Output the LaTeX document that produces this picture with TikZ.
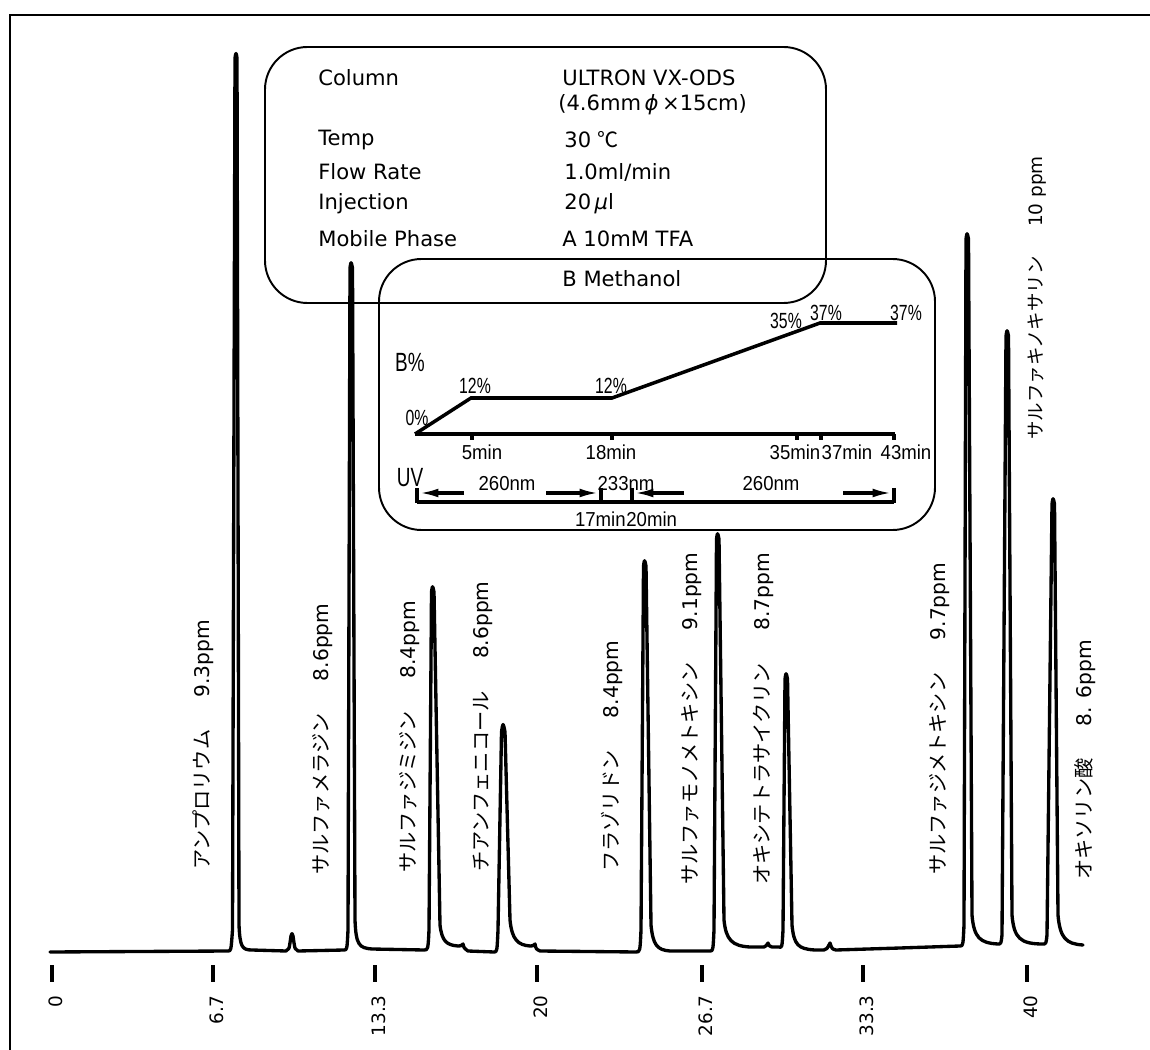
\documentclass[tikz,border=0pt]{standalone}
\usepackage{fontspec}
\setmainfont{DejaVu Sans}
\newfontfamily\jp{Noto Sans CJK JP}
\newfontfamily\chartfont[FakeStretch=0.92]{Liberation Sans}
\newfontfamily\narrowfont[FakeStretch=0.72]{Liberation Sans}
\usetikzlibrary{arrows.meta}

\begin{document}
\begin{tikzpicture}[x=0.02cm,y=-0.02cm,
  trace/.style={line width=1.9pt,line join=round,line cap=round},
  infobox/.style={draw,line width=1.1pt,rounded corners=0.85cm},
  infotext/.style={anchor=west,inner sep=0pt,font=\fontsize{12}{14}\selectfont},
  peaklabel/.style={rotate=90,anchor=west,inner sep=0pt,font=\fontsize{11.5}{13}\selectfont},
  ticklabel/.style={rotate=90,anchor=east,inner sep=0pt,font=\fontsize{10.5}{12}\selectfont},
  tickmark/.style={line width=2.2pt},
  gradtext/.style={inner sep=0pt,font=\chartfont\fontsize{11.5}{13}\selectfont},
  pcttext/.style={inner sep=0pt,font=\narrowfont\fontsize{12.5}{14}\selectfont},
  bigtext/.style={inner sep=0pt,font=\narrowfont\fontsize{15}{17}\selectfont},
  uvarrow/.style={line width=1.8pt,-{Latex[length=11pt,width=5pt]}},
  thickline/.style={line width=2pt}]

\useasboundingbox (0,0) rectangle (1150,1050);
\draw[line width=1.5pt] (10,1050) -- (10,15) -- (1150,15);

% conditions
\draw[infobox] (265,47) rectangle (826,303);
\draw[infobox] (379,259) rectangle (935,530);

\node[infotext] (col) at (318,78) {Column};
\node[infotext] (colv) at (562,78) {ULTRON VX-ODS};
\node[infotext] (colsize) at (558,105) {(4.6mm\,\textit{ϕ}\,×15cm)};
\node[infotext] (temp) at (318,140) {Temp};
\node[infotext] (tempv) at (564,140) {30 {\jp ℃}};
\node[infotext] (flow) at (318,172) {Flow Rate};
\node[infotext] (flowv) at (564,172) {1.0ml/min};
\node[infotext] (inj) at (318,204) {Injection};
\node[infotext] (injv) at (564,204) {20\,\textit{μ}l};
\node[infotext] (mob) at (318,239) {Mobile Phase};
\node[infotext] (mobA) at (562,239) {A 10mM TFA};
\node[infotext] (mobB) at (562,279) {B Methanol};

% gradient
\coordinate (g0) at (415,434);
\coordinate (g5) at (471,398);
\coordinate (g18) at (612,398);
\coordinate (g37) at (820,323);
\coordinate (g43) at (897,323);
\coordinate (ax43) at (895,434);
\draw[thickline] (g0) -- (g5) -- (g18) -- (g37) -- (g43);
\draw[thickline] (g0) -- (ax43);
\foreach \x in {472,612,797,821,894}
  \draw[line width=2.2pt] (\x,434) -- (\x,440);

\node[bigtext] (bpct) at (410,362) {B\%};
\node[pcttext] (p0) at (417,418) {0\%};
\node[pcttext] (p12a) at (475,386) {12\%};
\node[pcttext] (p12b) at (611,386) {12\%};
\node[pcttext] (p35) at (786,321) {35\%};
\node[pcttext] (p37a) at (826,313) {37\%};
\node[pcttext] (p37b) at (906,313) {37\%};
\node[gradtext] (m5) at (482,452) {5min};
\node[gradtext] (m18) at (611,452) {18min};
\node[gradtext] (m35) at (795,452) {35min};
\node[gradtext] (m37) at (847,452) {37min};
\node[gradtext] (m43) at (906,452) {43min};

% UV program
\node[bigtext] (uv) at (410,478) {UV};
\coordinate (u0) at (417,502);
\coordinate (u43) at (894,502);
\draw[thickline] (u0) -- (u43);
\foreach \x in {417,601,632,894}
  \draw[tickmark] (\x,488) -- (\x,503);
\draw[uvarrow] (464,493) -- (419,493);
\draw[uvarrow] (546,493) -- (599,493);
\draw[uvarrow] (684,493) -- (634,493);
\draw[uvarrow] (843,493) -- (892,493);
\node[gradtext] (nm1) at (507,484) {260nm};
\node[gradtext] (nm2) at (626,484) {233nm};
\node[gradtext] (nm3) at (771,484) {260nm};
\node[gradtext,anchor=east] (t17) at (626,519) {17min};
\node[gradtext,anchor=west] (t20) at (626,519) {20min};

% chromatogram
\draw[trace] (50,952) -- (228,951)
  .. controls (231,951) .. (232.5,930) -- (235,58) .. controls (236,52) .. (237,58)
  -- (239,925) .. controls (240,947) and (242,950) .. (252,950)
  -- (286,951) .. controls (289,950) .. (291,936) .. controls (292,933) .. (293,936)
  .. controls (295,950) .. (298,951) -- (344,950)
  .. controls (347,950) .. (348,930) -- (350,268) .. controls (351,261) .. (352.5,268)
  -- (355,920) .. controls (356,945) and (359,948) .. (372,949) -- (424,950)
  .. controls (428,950) .. (429,930) -- (431.5,592) .. controls (432.5,585) .. (434,592)
  -- (440,925) .. controls (442,942) and (447,945) .. (458,946)
  .. controls (461,946) .. (463,944) .. controls (464,948) .. (468,951) -- (494,952)
  .. controls (497,952) .. (498,930) -- (501.5,732) .. controls (503,722) .. (505,732)
  -- (510,920) .. controls (512,940) and (518,945) .. (530,946)
  .. controls (533,946) .. (535,944) .. controls (536,949) .. (540,951) -- (636,952)
  .. controls (640,952) .. (641,930) -- (643.5,566) .. controls (644.5,559) .. (646,566)
  -- (651,925) .. controls (653,945) and (657,950) .. (670,951) -- (710,951)
  .. controls (713,951) .. (714,930) -- (716.5,539) .. controls (717.5,532) .. (719,539)
  -- (724,920) .. controls (726,940) and (732,946) .. (750,947) -- (764,947)
  .. controls (766,946) .. (768,943) .. controls (769,946) .. (772,947) -- (779,947)
  .. controls (782,948) .. (783,930) -- (785,679) .. controls (786,672) .. (787.5,679)
  -- (792,925) .. controls (794,945) and (798,949) .. (815,950) -- (824,950)
  .. controls (827,949) .. (830,943) .. controls (832,949) .. (836,950) -- (900,948) -- (960,946)
  .. controls (963,946) .. (964,925) -- (966,239) .. controls (967,232) .. (968.5,239)
  -- (972,915) .. controls (974,938) and (980,943) .. (998,944)
  .. controls (1001,944) .. (1002,935) -- (1006,336) .. controls (1007,329) .. (1008.5,336)
  -- (1012,915) .. controls (1014,938) and (1020,944) .. (1043,944)
  .. controls (1046,944) .. (1047,935) -- (1052,504) .. controls (1053,497) .. (1054.5,504)
  -- (1058,915) .. controls (1060,938) and (1066,944) .. (1083,945);

% peak names
\node[peaklabel] (pk1) at (203,870) {{\jp アンプロリウム}\hspace{1.6em}9.3ppm};
\node[peaklabel] (pk2) at (323,875) {{\jp サルファメラジン}\hspace{1.6em}8.6ppm};
\node[peaklabel] (pk3) at (410,873) {{\jp サルファジミジン}\hspace{1.6em}8.4ppm};
\node[peaklabel] (pk4) at (483,872) {{\jp チアンフェニコール}\hspace{1.6em}8.6ppm};
\node[peaklabel] (pk5) at (612,872) {{\jp フラゾリドン}\hspace{1.6em}8.4ppm};
\node[peaklabel] (pk6) at (692,885) {{\jp サルファモノメトキシン}\hspace{1.6em}9.1ppm};
\node[peaklabel] (pk7) at (763,885) {{\jp オキシテトラサイクリン}\hspace{1.6em}8.7ppm};
\node[peaklabel] (pk8) at (940,875) {{\jp サルファジメトキシン}\hspace{1.6em}9.7ppm};
\node[peaklabel,font=\fontsize{10.5}{12}\selectfont] (pk9) at (1037,440) {{\jp サルファキノキサリン}\hspace{1.6em}10 ppm};
\node[peaklabel] (pk10) at (1085,880) {{\jp オキソリン酸}\hspace{1.6em}8. 6ppm};

% time axis
\foreach \x/\lab [count=\i] in {52/0,213/6.7,375/13.3,537/20,702/26.7,863/33.3,1027/40} {
  \draw[tickmark] (\x,965) -- (\x,982);
  \node[ticklabel] (tick\i) at (\x+4,995) {\lab};
}

\end{tikzpicture}
\end{document}
